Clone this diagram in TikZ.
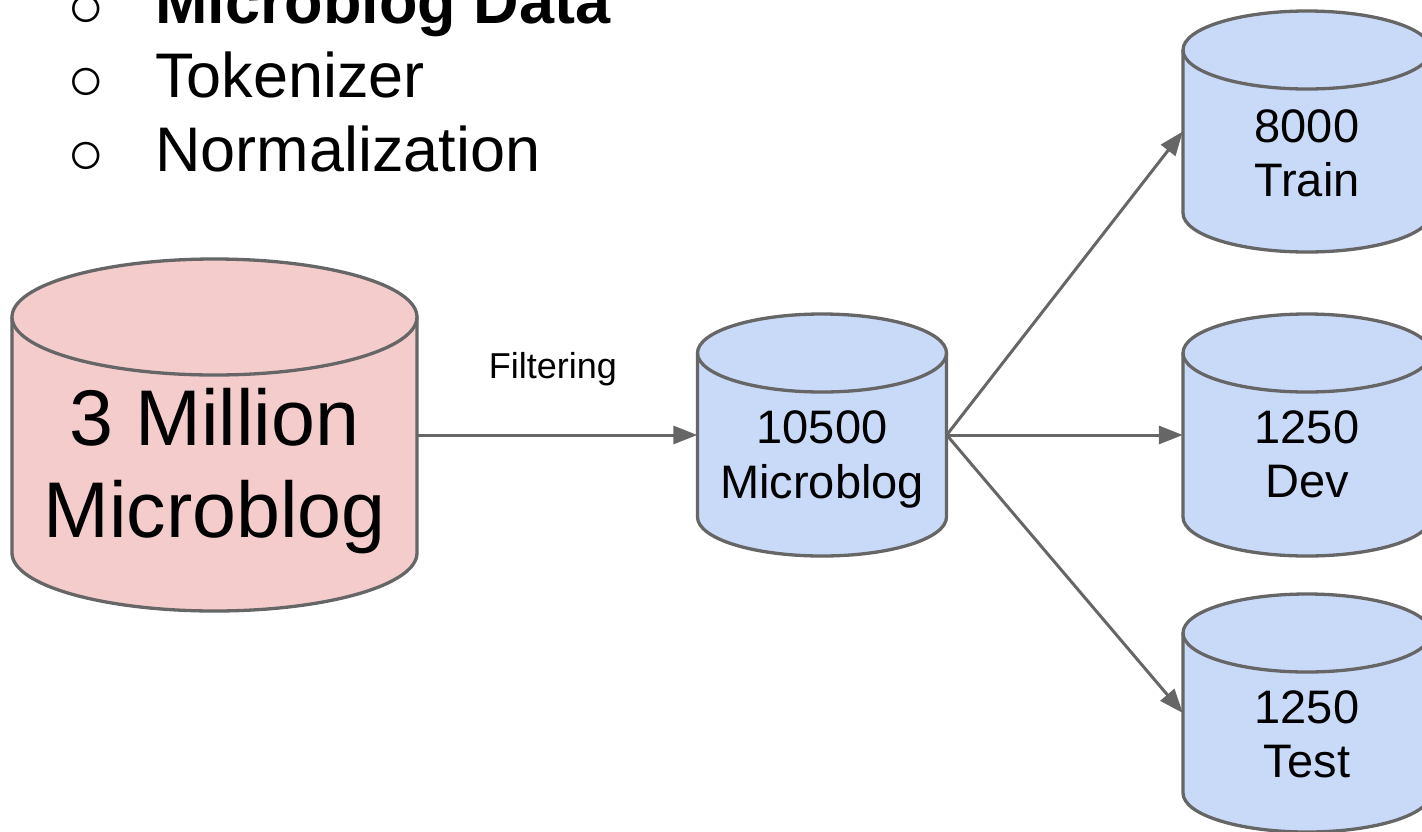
\documentclass[tikz,border=0pt]{standalone}
\usepackage{fontspec}
\setmainfont{Liberation Sans}
\usetikzlibrary{arrows.meta}
\definecolor{pinkfill}{HTML}{F4CCCC}
\definecolor{bluefill}{HTML}{C9DAF8}
\definecolor{edgegray}{HTML}{666666}
\tikzset{
  cylline/.style={draw=edgegray, line width=3.3pt, line join=round},
  conn/.style={draw=edgegray, line width=3pt, -{Triangle[length=24pt,width=18pt]}},
  anchorbox/.style={rectangle, inner sep=0pt, minimum width=#1},
  bigtext/.style={anchor=base, inner sep=0pt, font=\fontsize{79}{92}\selectfont},
  midtext/.style={anchor=base, inner sep=0pt, font=\fontsize{47}{55}\selectfont},
  listtext/.style={anchor=base west, inner sep=0pt, font=\fontsize{63}{73}\selectfont},
  bullettext/.style={anchor=base, inner sep=0pt, font=\fontsize{62}{73}\selectfont},
  labeltext/.style={anchor=base, inner sep=0pt, font=\fontsize{36}{42}\selectfont},
}
% #1 name, #2 cx, #3 rx, #4 ytop, #5 ybot, #6 ry, #7 fill
\newcommand\dbcyl[7]{%
  \path[cylline, fill=#7] ({#2-#3},#4) -- ({#2-#3},#5)
     arc[start angle=180, end angle=360, x radius=#3, y radius=#6]
     -- ({#2+#3},#4)
     arc[start angle=0, end angle=180, x radius=#3, y radius=#6] -- cycle;
  \draw[cylline] ({#2-#3},#4) arc[start angle=180, end angle=360, x radius=#3, y radius=#6];
  \node[anchorbox={2*#3*1pt}, minimum height={(#4-(#5))*1pt}] (#1) at (#2,{(#4+#5)/2}) {};
}
\begin{document}
\begin{tikzpicture}[x=1pt,y=1pt]
\useasboundingbox (0,0) rectangle (1422,-831);
\clip (0,0) rectangle (1422,-831);

% bullet list
\node[bullettext] (b1) at (86,-27) {○};
\node[listtext, font=\fontsize{63}{73}\selectfont\bfseries] (l1) at (155,-23) {Microblog Data};
\node[bullettext] (b2) at (86,-100) {○};
\node[listtext] (l2) at (155,-97) {Tokenizer};
\node[bullettext] (b3) at (86,-174) {○};
\node[listtext] (l3) at (155,-171) {Normalization};

% cylinders
\dbcyl{big}{214.5}{202.5}{-317}{-553}{58}{pinkfill}
\node[bigtext] (bigA) at (214.5,-445) {3 Million};
\node[bigtext] (bigB) at (214.5,-537) {Microblog};

\dbcyl{mid}{822}{124.5}{-353}{-517}{39}{bluefill}
\node[midtext] (midA) at (822,-443) {10500};
\node[midtext] (midB) at (822,-498) {Microblog};

\dbcyl{train}{1307}{124}{-50}{-213}{39}{bluefill}
\node[midtext] (trainA) at (1307,-142) {8000};
\node[midtext] (trainB) at (1307,-196) {Train};

\dbcyl{dev}{1307}{124}{-353}{-517}{39}{bluefill}
\node[midtext] (devA) at (1307,-443) {1250};
\node[midtext] (devB) at (1307,-497) {Dev};

\dbcyl{test}{1307}{124}{-633}{-793}{39}{bluefill}
\node[midtext] (testA) at (1307,-723) {1250};
\node[midtext] (testB) at (1307,-777) {Test};

% connectors
\draw[conn] (big.east) -- (mid.west);
\node[labeltext] (filt) at (553,-378) {Filtering};
\draw[conn] (mid.east) -- (train.west);
\draw[conn] (mid.east) -- (dev.west);
\draw[conn] (mid.east) -- (test.west);
\end{tikzpicture}
\end{document}
